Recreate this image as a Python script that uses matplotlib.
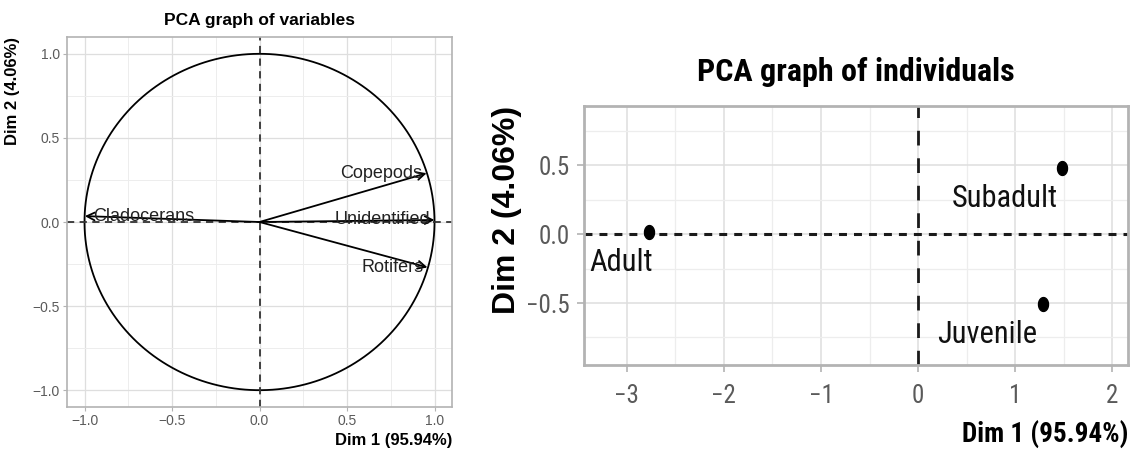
import numpy as np
import matplotlib.pyplot as plt

# variables (correlation circle)
var_names = ["Copepods", "Unidentified", "Rotifers", "Cladocerans"]
var_dim1 = [0.955, 1.0, 0.96, -0.998]
var_dim2 = [0.29, 0.012, -0.27, 0.035]

# individuals
ind_names = ["Adult", "Subadult", "Juvenile"]
ind_dim1 = [-2.77, 1.48, 1.29]
ind_dim2 = [0.017, 0.48, -0.506]

xlab = "Dim 1 (95.94%)"
ylab = "Dim 2 (4.06%)"

narrow = ["Roboto Condensed", "Liberation Sans", "DejaVu Sans"]
plt.rcParams['font.family'] = ["Liberation Sans", "DejaVu Sans"]

fig = plt.figure(figsize=(11.43, 4.51), dpi=100)

border = "#b3b3b3"
major_c = "#dedede"
minor_c = "#ededed"
tick_c = "#5a5a5a"

# ---------- left: PCA graph of variables ----------
ax1 = fig.add_axes([67 / 1143, 44 / 451, 385 / 1143, 370 / 451])
ax1.set_xlim(-1.1, 1.1)
ax1.set_ylim(-1.1, 1.1)
ax1.set_xticks([-1.0, -0.5, 0.0, 0.5, 1.0])
ax1.set_yticks([-1.0, -0.5, 0.0, 0.5, 1.0])
ax1.set_xticks([-0.75, -0.25, 0.25, 0.75], minor=True)
ax1.set_yticks([-0.75, -0.25, 0.25, 0.75], minor=True)
ax1.set_xticklabels(["\u22121.0", "\u22120.5", "0.0", "0.5", "1.0"])
ax1.set_yticklabels(["\u22121.0", "\u22120.5", "0.0", "0.5", "1.0"])
ax1.grid(which="major", color=major_c, lw=0.9)
ax1.grid(which="minor", color=minor_c, lw=0.7)
ax1.set_axisbelow(True)
for s in ax1.spines.values():
    s.set_color(border)
    s.set_linewidth(1.2)
ax1.tick_params(which="both", length=3, color=border, labelsize=10, labelcolor=tick_c, pad=2)
ax1.tick_params(which="minor", length=0)

theta = np.linspace(0, 2 * np.pi, 400)
ax1.plot(np.cos(theta), np.sin(theta), color="black", lw=1.3)
ax1.axhline(0, color="#333333", lw=1.3, ls=(0, (4, 3)))
ax1.axvline(0, color="#333333", lw=1.3, ls=(0, (4, 3)))

for name, x, y in zip(var_names, var_dim1, var_dim2):
    ax1.annotate("", xy=(x, y), xytext=(0, 0),
                 arrowprops=dict(arrowstyle="->", color="black", lw=1.3, mutation_scale=14,
                                 shrinkA=0, shrinkB=0))
    if x >= 0:
        ax1.annotate(name, (x, y), xytext=(-3, 0), textcoords="offset points",
                     ha="right", va="center", fontsize=13, color="#222222")
    else:
        ax1.annotate(name, (x, y), xytext=(6, 0), textcoords="offset points",
                     ha="left", va="center", fontsize=13, color="#222222")

ax1.set_title("PCA graph of variables", fontsize=12.5, fontweight="bold", pad=9)
ax1.set_xlabel(xlab, fontsize=12, fontweight="bold", loc="right", labelpad=4)
ax1.set_ylabel(ylab, fontsize=12, fontweight="bold", loc="top", labelpad=9)

# ---------- right: PCA graph of individuals ----------
ax2 = fig.add_axes([584 / 1143, 86 / 451, 544 / 1143, 259 / 451])
ax2.set_xlim(-3.44, 2.16)
ax2.set_ylim(-0.95, 0.93)
ax2.set_xticks([-3, -2, -1, 0, 1, 2])
ax2.set_xticks([-2.5, -1.5, -0.5, 0.5, 1.5], minor=True)
ax2.set_yticks([-0.5, 0.0, 0.5])
ax2.set_yticks([-0.75, -0.25, 0.25, 0.75], minor=True)
ax2.set_xticklabels(["\u22123", "\u22122", "\u22121", "0", "1", "2"])
ax2.set_yticklabels(["\u22120.5", "0.0", "0.5"])
ax2.grid(which="major", color=major_c, lw=1.1)
ax2.grid(which="minor", color=minor_c, lw=0.9)
ax2.set_axisbelow(True)
for s in ax2.spines.values():
    s.set_color(border)
    s.set_linewidth(2)
ax2.tick_params(which="major", length=5, width=1.2, color=border, labelsize=18,
                labelcolor=tick_c, pad=5)
ax2.tick_params(axis="x", which="major", pad=9)
ax2.tick_params(which="minor", length=0)
for lab in ax2.get_xticklabels() + ax2.get_yticklabels():
    lab.set_family(narrow)

ax2.axhline(0, color="#1a1a1a", lw=2.2, ls=(0, (2.6, 2.3)))
ax2.axvline(0, color="#1a1a1a", lw=2.0, ls=(0, (5.3, 4.6)))

# dots are a bit taller than wide in the reference
t = np.linspace(0, 2 * np.pi, 40)
dot = np.column_stack([0.72 * np.cos(t), np.sin(t)])
ax2.scatter(ind_dim1, ind_dim2, s=100, marker=dot, color="black", zorder=3)

label_offsets = [(-0.29, -0.225), (-0.59, -0.225), (-0.58, -0.225)]
for name, x, y, (dx, dy) in zip(ind_names, ind_dim1, ind_dim2, label_offsets):
    ax2.text(x + dx, y + dy, name, ha="center", va="center", fontsize=22,
             family=narrow, color="#111111")

ax2.set_title("PCA graph of individuals", fontsize=23, fontweight="bold", family=narrow, pad=18)
ax2.set_xlabel(xlab, fontsize=19.5, fontweight="bold", family=narrow, loc="right", labelpad=9)
ax2.set_ylabel(ylab, fontsize=23, fontweight="bold", loc="top", labelpad=3)

fig.savefig("out.png", dpi=100)
